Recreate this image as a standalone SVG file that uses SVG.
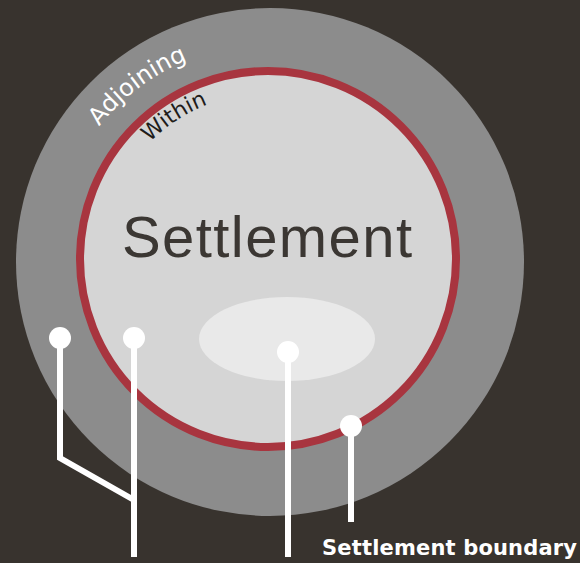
<svg xmlns="http://www.w3.org/2000/svg" xmlns:xlink="http://www.w3.org/1999/xlink" width="580" height="563" viewBox="0 0 580 563">
  <defs>
    <style>
      .lead { stroke: #ffffff; stroke-width: 6; fill: none; stroke-linejoin: miter; }
      .dot { fill: #ffffff; }
      .arcText { font-family: "DejaVu Sans", "Liberation Sans", sans-serif; }
    </style>
    <path id="adjArc" d="M 52,262 A 218 218 0 0 1 488,262"/>
    <path id="withinArc" d="M 102,259 A 166 166 0 0 1 434,259"/>
  </defs>
  <rect x="0" y="0" width="580" height="563" fill="#38332e"/>
  <g id="adjoining-zone">
    <circle cx="270" cy="262" r="254" fill="#8c8c8c"/>
    <text class="arcText" font-size="24" fill="#ffffff"><textPath xlink:href="#adjArc" href="#adjArc" startOffset="146">Adjoining</textPath></text>
  </g>
  <g id="settlement">
    <circle cx="268" cy="259" r="188" fill="#d5d5d5" stroke="#a8353f" stroke-width="8"/>
    <ellipse cx="287" cy="339" rx="88" ry="42" fill="#e9e9e9"/>
    <text class="arcText" font-size="22" fill="#1e1c1a"><textPath xlink:href="#withinArc" href="#withinArc" startOffset="129">Within</textPath></text>
    <text x="267" y="257" text-anchor="middle" font-family="'Liberation Sans', Arial, sans-serif" font-size="58" fill="#3b3733" textLength="290" lengthAdjust="spacing">Settlement</text>
  </g>
  <g id="connectors">
    <polyline class="lead" points="60,338 60,458 134,500"/>
    <line class="lead" x1="134" y1="338" x2="134" y2="557"/>
    <line class="lead" x1="288" y1="352" x2="288" y2="557"/>
    <line class="lead" x1="351" y1="426" x2="351" y2="522"/>
    <circle class="dot" cx="60" cy="338" r="11"/>
    <circle class="dot" cx="134" cy="338" r="11"/>
    <circle class="dot" cx="288" cy="352" r="11"/>
    <circle class="dot" cx="351" cy="426" r="11"/>
  </g>
  <g id="label-boundary">
    <text x="322" y="555" font-family="'DejaVu Sans', 'Liberation Sans', sans-serif" font-weight="bold" font-size="21" fill="#ffffff" textLength="255" lengthAdjust="spacing">Settlement boundary</text>
  </g>
</svg>
